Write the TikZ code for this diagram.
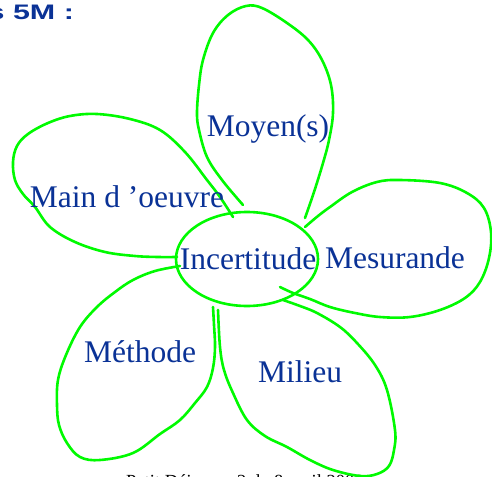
\documentclass[tikz,border=0pt]{standalone}
\usepackage{fontspec}
\setmainfont{Liberation Serif}
\newfontfamily\titlefont{Liberation Sans}
\usetikzlibrary{shapes.geometric}
\definecolor{petalgreen}{RGB}{0,250,0}
\definecolor{labelblue}{RGB}{10,50,150}
\begin{document}
\begin{tikzpicture}[x=1pt,y=-1pt,
  petal/.style={draw=petalgreen, line width=2.6pt, line cap=round, line join=round},
  lbl/.style={text=labelblue, font=\fontsize{31.5}{34}\selectfont, inner sep=0pt, anchor=base}]
\useasboundingbox (0,0) rectangle (492,476);

% title (cut at the left edge)
\node[anchor=base west, inner sep=0pt, text=labelblue] (title) at (-12.5,19.5)
  {\scalebox{1.45}[1]{\titlefont\bfseries\fontsize{21}{23}\selectfont s 5M :}};

% footer (cut at the bottom edge)
\node[anchor=base west, inner sep=0pt, font=\fontsize{18.5}{20}\selectfont] (foot) at (126,487)
  {Petit Déjeuner 2 du 8 avril 2008};

% petals
\draw[petal] plot[smooth, tension=0.6] coordinates {
  (243,205) (222,180) (207,157) (199,130) (197,113) (199,85) (203,60) (213,33)
  (228,15) (246,6) (262,8) (287,23) (308,40) (322,60) (331,85) (333,113)
  (329,140) (323,163) (314,192) (305,218)};

\draw[petal] plot[smooth, tension=0.6] coordinates {
  (305,227) (318,216) (330,207) (352,192) (377,182) (400,180) (440,183)
  (467,193) (484,208) (491,232) (489,258) (480,282) (465,298) (440,310)
  (410,317) (380,317) (355,313) (330,307) (310,299) (293,293) (280,287)};

\draw[petal] plot[smooth, tension=0.6] coordinates {
  (283,300) (300,306) (317,313) (340,327) (357,343) (375,365) (387,390)
  (395,430) (394,450) (389,466) (377,474) (360,476) (333,470) (310,460)
  (287,447) (265,436) (247,420) (233,393) (224,370) (220,347) (218,310)};

\draw[petal] plot[smooth, tension=0.6] coordinates {
  (213,307) (214,325) (215,347) (213,368) (207,387) (195,403) (180,420)
  (160,434) (133,453) (100,460) (80,457) (67,443) (59,425) (57,405)
  (58,380) (66,355) (80,327) (97,307) (115,292) (133,280) (155,271) (180,266)};

\draw[petal] plot[smooth, tension=0.6] coordinates {
  (233,217) (220,197) (207,180) (185,152) (160,130) (130,119) (97,114)
  (70,116) (48,123) (28,134) (17,146) (13,162) (15,180) (23,194)
  (35,207) (50,227) (75,242) (105,252) (135,256) (158,257) (177,257)};

% centre
\node[lbl, ellipse, draw=petalgreen, line width=2.6pt, anchor=center,
  minimum width=142pt, minimum height=94pt, inner sep=0pt] (inc) at (247,259) {};
\node[lbl] (inctext) at (248,269) {Incertitude};

% labels
\node[lbl] (moyen) at (268,136) {Moyen(s)};
\node[lbl] (main) at (127,207) {Main d ’oeuvre};
\node[lbl] (mesur) at (395,268) {Mesurande};
\node[lbl] (meth) at (140,362) {Méthode};
\node[lbl] (milieu) at (300,382) {Milieu};
\end{tikzpicture}
\end{document}
